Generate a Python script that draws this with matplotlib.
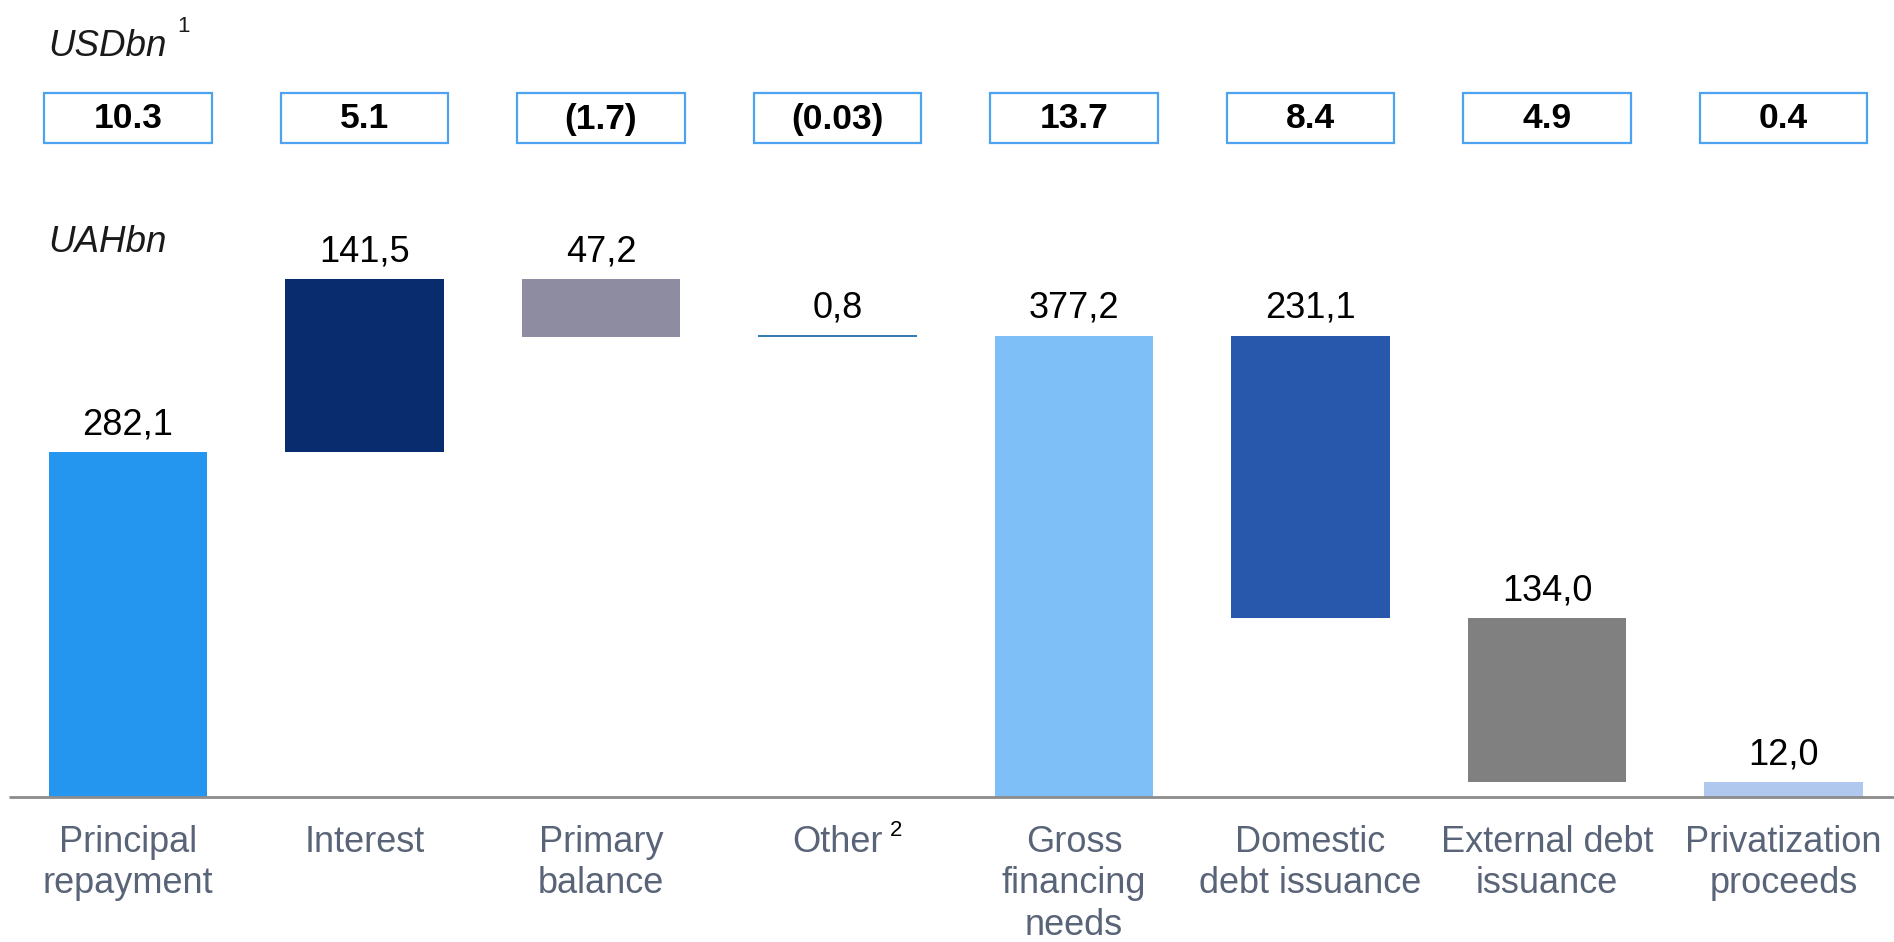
import numpy as np
import matplotlib.pyplot as plt
from matplotlib.patches import Rectangle

plt.rcParams['font.family'] = ['Liberation Sans', 'DejaVu Sans']

categories = ['Principal\nrepayment', 'Interest', 'Primary\nbalance', 'Other',
              'Gross\nfinancing\nneeds', 'Domestic\ndebt issuance',
              'External debt\nissuance', 'Privatization\nproceeds']
# signed steps of the waterfall (UAH bn); 'total' bars start from zero
uah_values = [282.1, 141.5, -47.2, 0.8, 377.2, -231.1, -134.0, -12.0]
is_total = [False, False, False, False, True, False, False, False]
usd_labels = ['10.3', '5.1', '(1.7)', '(0.03)', '13.7', '8.4', '4.9', '0.4']
colors = ['#2496F0', '#082C6E', '#8E8CA0', '#1F6FA8', '#7FBFF7', '#2758AB',
          '#808080', '#B0C8EE']

# waterfall bottoms
bottoms, heights = [], []
level = 0.0
for v, tot in zip(uah_values, is_total):
    if tot:
        level = 0.0
    if v >= 0:
        bottoms.append(level)
        heights.append(v)
        level += v
    else:
        level += v
        bottoms.append(level)
        heights.append(-v)
bottoms = np.array(bottoms)
heights = np.array(heights)
x = np.arange(len(categories))

W, H = 1894, 942
fig = plt.figure(figsize=(W / 100, H / 100), dpi=100)
ax = fig.add_axes([0, 0, 1, 1])

# pixel mapping: centre of first bar at 128 px, spacing 236.5 px, baseline 797 px
x0, dx = 128, 236.5
base_px, k = 797, 1.223
ax.set_xlim(-x0 / dx, (W - x0) / dx)
ax.set_ylim(-(H - base_px) / k, base_px / k)
ax.axis('off')

def py(p):
    # pixel row from top -> data y
    return (base_px - p) / k

def px(p):
    return (p - x0) / dx

for i in x:
    if i == 3:
        ax.hlines(bottoms[i] + heights[i], i - 0.335, i + 0.335, color=colors[i], lw=1.3)
    else:
        ax.bar(i, heights[i], width=0.67, bottom=bottoms[i], color=colors[i])
    top = bottoms[i] + heights[i]
    lab = f'{abs(uah_values[i]):.1f}'.replace('.', ',')
    ax.annotate(lab, (i, top), xytext=(0, 7), textcoords='offset points',
                ha='center', va='bottom', fontsize=26, color='black')
    # usd boxes
    ax.add_patch(Rectangle((i - 0.355, py(143)), 0.71, 50 / k, fill=False,
                           edgecolor='#4DA3F0', lw=1.6))
    ax.text(i, py(119), usd_labels[i], ha='center', va='center', fontsize=25.5,
            fontweight='bold', color='black')
    ax.text(i, py(825), categories[i], ha='center', va='top', fontsize=26,
            color='#5A6478', linespacing=1.24)

ax.hlines(0, px(9), px(W), color='#8C8C8C', lw=2)

ax.text(px(48), py(46), 'USDbn', ha='left', va='center', fontsize=26.5,
        style='italic', color='#1A1A1A')
ax.text(px(177), py(26), '1', ha='left', va='center', fontsize=16, color='#1A1A1A')
ax.text(px(48), py(243), 'UAHbn', ha='left', va='center', fontsize=26.5,
        style='italic', color='#1A1A1A')
ax.text(px(890), py(830), '2', ha='left', va='center', fontsize=16, color='black')

fig.savefig('out.png', dpi=100)
